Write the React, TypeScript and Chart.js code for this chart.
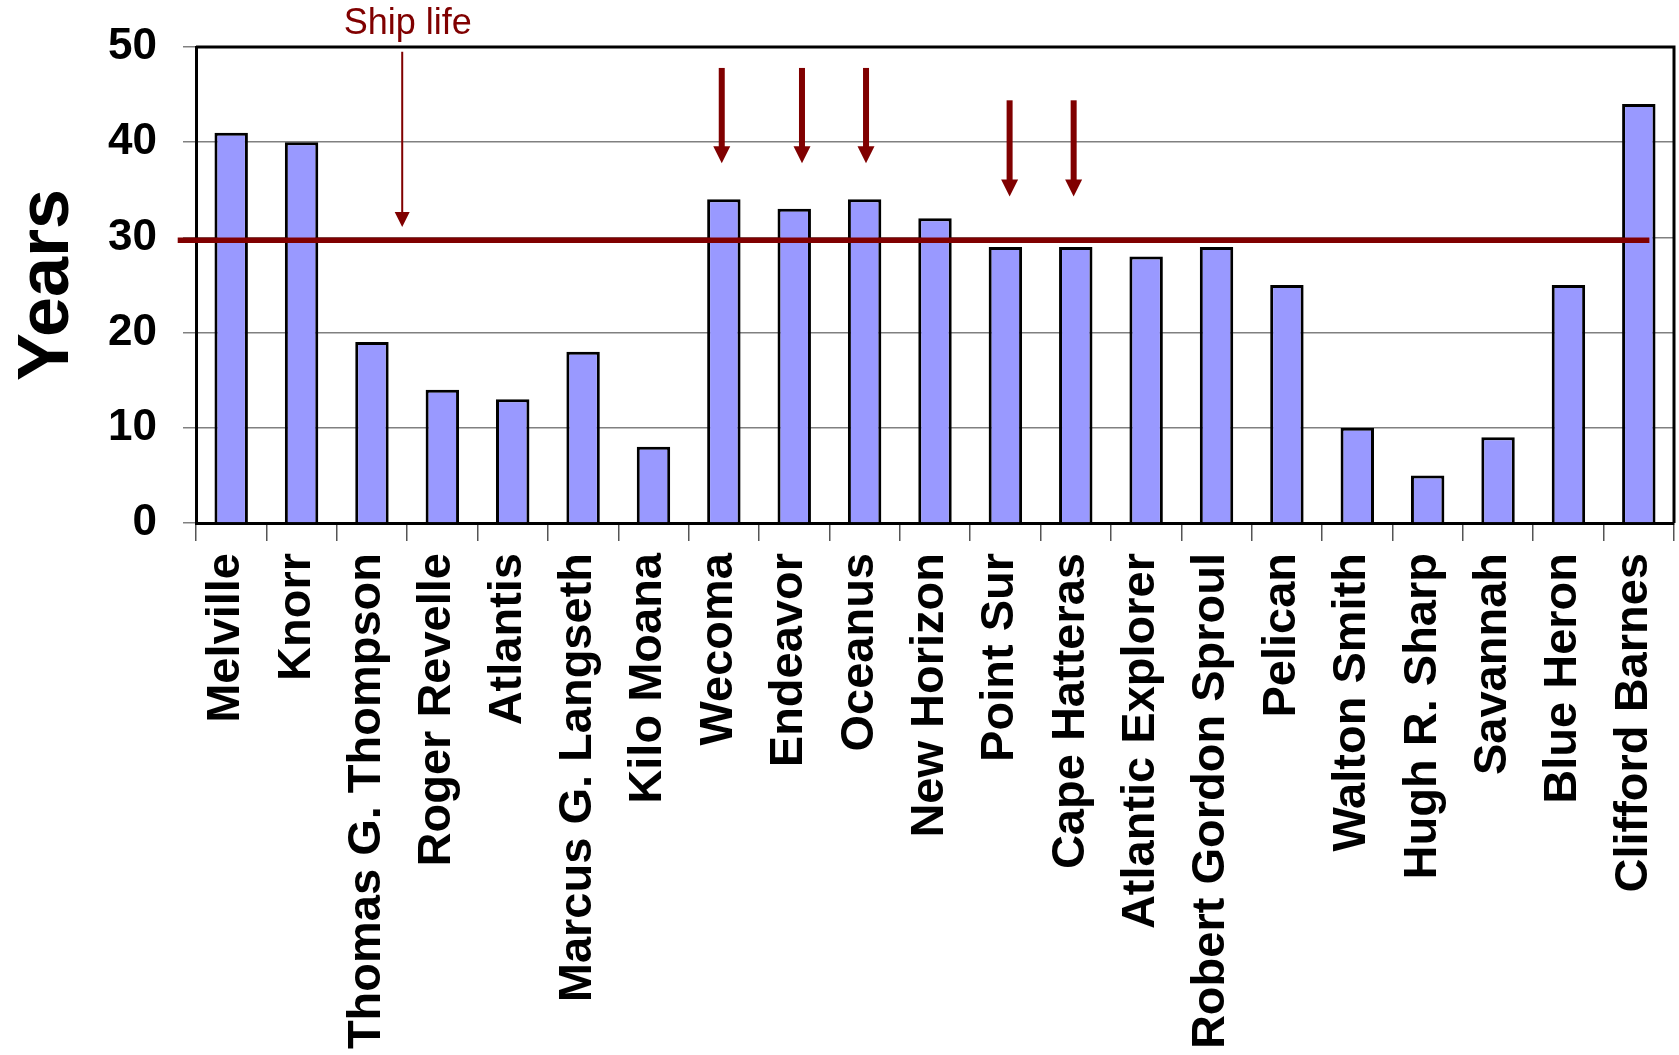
import { useEffect, useRef } from 'react';
import { Chart, registerables } from 'chart.js';

Chart.register(...registerables);

// ---- data ----
const ships = [
  'Melville', 'Knorr', 'Thomas G. Thompson', 'Roger Revelle', 'Atlantis',
  'Marcus G. Langseth', 'Kilo Moana', 'Wecoma', 'Endeavor', 'Oceanus',
  'New Horizon', 'Point Sur', 'Cape Hatteras', 'Atlantic Explorer',
  'Robert Gordon Sproul', 'Pelican', 'Walton Smith', 'Hugh R. Sharp',
  'Savannah', 'Blue Heron', 'Clifford Barnes',
];
const ages = [41, 40, 19, 14, 13, 18, 8, 34, 33, 34, 32, 29, 29, 28, 29, 25, 10, 5, 9, 25, 44];
const yTicks = [0, 10, 20, 30, 40, 50];
const yTitle = 'Years';

// ship-life reference line (value in years, span in category units)
const shipLifeLabel = 'Ship life';
const shipLifeValue = 29.7;
const shipLifeSpan = [-0.76, 20.15];
const shipLifeLabelPos = [2.51, 51.4];
const shipLifeArrow = [2.43, 49.5, 31.1]; // x (category), top, tip

// highlighted ships (thick arrows)
const arrowShips = ['Wecoma', 'Endeavor', 'Oceanus', 'Point Sur', 'Cape Hatteras'];
const arrowShift = [-0.03, 0.11, 0.02, 0.06, -0.03];
const arrowTops = [47.8, 47.8, 47.8, 44.4, 44.4];
const arrowTips = [37.8, 37.8, 37.8, 34.3, 34.3];

const RED = '#800000';
const FONT = "'Liberation Sans', Arial, sans-serif";

function drawArrow(ctx: CanvasRenderingContext2D, x: number, yTop: number, yTip: number,
  shaftW: number, headW: number, headH: number) {
  ctx.fillRect(x - shaftW / 2, yTop, shaftW, yTip - headH - yTop + 1);
  ctx.beginPath();
  ctx.moveTo(x - headW / 2, yTip - headH);
  ctx.lineTo(x + headW / 2, yTip - headH);
  ctx.lineTo(x, yTip);
  ctx.closePath();
  ctx.fill();
}

const overlay = {
  id: 'overlay',
  afterDatasetsDraw(chart: any) {
    const { ctx, chartArea, scales } = chart;
    const x = scales.x;
    const y = scales.y;
    ctx.save();
    // top & right frame
    ctx.strokeStyle = '#000';
    ctx.lineWidth = 3;
    ctx.beginPath();
    ctx.moveTo(chartArea.left, chartArea.top);
    ctx.lineTo(chartArea.right, chartArea.top);
    ctx.lineTo(chartArea.right, chartArea.bottom);
    ctx.stroke();

    // ship life line
    const ly = y.getPixelForValue(shipLifeValue);
    ctx.strokeStyle = RED;
    ctx.lineWidth = 5.5;
    ctx.beginPath();
    ctx.moveTo(x.getPixelForValue(shipLifeSpan[0]), ly);
    ctx.lineTo(x.getPixelForValue(shipLifeSpan[1]), ly);
    ctx.stroke();

    ctx.fillStyle = RED;
    // label
    ctx.font = `36px ${FONT}`;
    ctx.textAlign = 'center';
    ctx.textBaseline = 'alphabetic';
    ctx.fillText(shipLifeLabel, x.getPixelForValue(shipLifeLabelPos[0]), y.getPixelForValue(shipLifeLabelPos[1]));
    // thin arrow
    drawArrow(ctx, x.getPixelForValue(shipLifeArrow[0]), y.getPixelForValue(shipLifeArrow[1]),
      y.getPixelForValue(shipLifeArrow[2]), 2, 15, 15);

    // thick arrows
    arrowShips.forEach((name, i) => {
      const idx = ships.indexOf(name) + arrowShift[i];
      drawArrow(ctx, x.getPixelForValue(idx), y.getPixelForValue(arrowTops[i]),
        y.getPixelForValue(arrowTips[i]), 6, 17, 17);
    });
    ctx.restore();
  },
};

const noOverflow = (s: any) => {
  s.paddingLeft = 0; s.paddingRight = 0; s.paddingTop = 0; s.paddingBottom = 0;
};

export default function App() {
  const ref = useRef<HTMLCanvasElement>(null);
  useEffect(() => {
    if (!ref.current) return;
    const chart = new Chart(ref.current, {
      type: 'bar',
      data: {
        labels: ships,
        datasets: [{
          data: ages,
          backgroundColor: '#9999FF',
          borderColor: '#000000',
          borderWidth: 3,
          borderSkipped: 'start',
          barPercentage: 0.475,
          categoryPercentage: 1,
        }],
      },
      options: {
        responsive: false,
        animation: false,
        events: [],
        layout: { padding: { top: 47, right: 5, left: 0, bottom: 0 } },
        plugins: { legend: { display: false }, tooltip: { enabled: false } },
        scales: {
          x: {
            afterFit: (s: any) => { s.height = 532; noOverflow(s); },
            grid: { drawOnChartArea: false, drawTicks: true, tickLength: 18, color: '#555', lineWidth: 1.5 },
            border: { display: true, color: '#000', width: 3 },
            ticks: {
              autoSkip: false, minRotation: 90, maxRotation: 90, padding: 12, labelOffset: -5,
              color: '#000', font: { family: FONT, size: 47, weight: 'bold' },
            },
          },
          y: {
            min: 0, max: 50,
            afterFit: (s: any) => { s.width = 196; noOverflow(s); },
            afterBuildTicks: (s: any) => { s.ticks = yTicks.map((v) => ({ value: v })); },
            grid: { color: '#808080', lineWidth: 1.5, tickLength: 13 },
            border: { display: true, color: '#000', width: 3 },
            ticks: { padding: 26, color: '#000', font: { family: FONT, size: 44, weight: 'bold' } },
            title: {
              display: true, text: yTitle, color: '#000', padding: { top: 5, bottom: 0 },
              font: { family: FONT, size: 72, weight: 'bold' },
            },
          },
        },
      },
      plugins: [overlay],
    });
    return () => chart.destroy();
  }, []);
  return (
    <canvas ref={ref} width={1679} height={1055}
      style={{ position: 'absolute', left: 0, top: 0, display: 'block' }} />
  );
}
